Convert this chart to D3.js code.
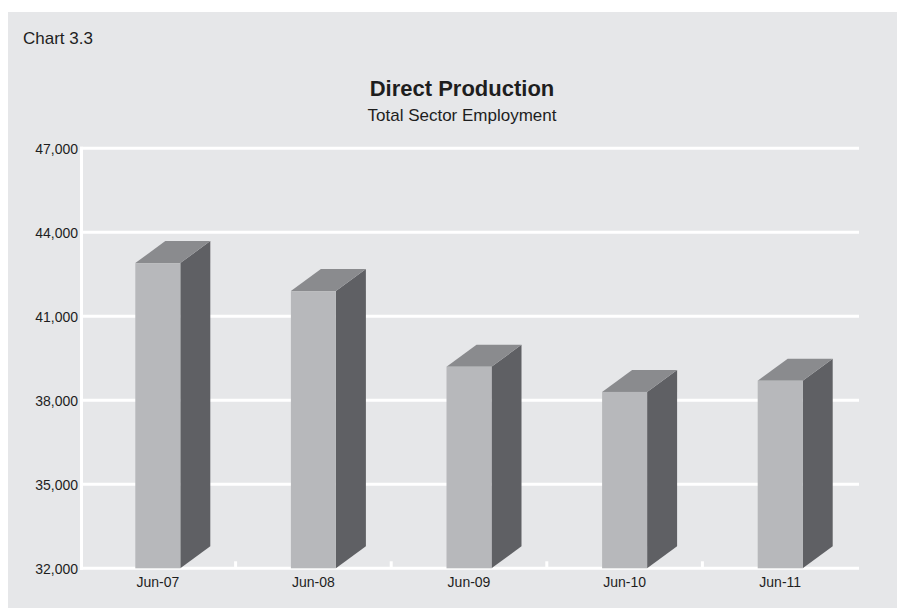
<!DOCTYPE html>
<html>
<head>
<meta charset="utf-8">
<script src="https://cdn.jsdelivr.net/npm/d3@7"></script>
<style>
  html, body { margin: 0; padding: 0; background: #ffffff; }
  svg { display: block; font-family: "Liberation Sans", Arial, Helvetica, sans-serif; }
</style>
</head>
<body>
<svg id="chart" width="905" height="608"></svg>
<script>
const categories = ["Jun-07", "Jun-08", "Jun-09", "Jun-10", "Jun-11"];
const employment = [42900, 41900, 39200, 38300, 38700];
const yTicks = [32000, 35000, 38000, 41000, 44000, 47000];
const chartLabel = "Chart 3.3";
const title = "Direct Production";
const subtitle = "Total Sector Employment";

(function () {
const svg = d3.select("#chart");

svg.append("rect").attr("x", 8).attr("y", 12).attr("width", 889).attr("height", 596)
  .attr("fill", "#e6e7e9");

const pLeft = 80, pRight = 858, pTop = 148.3, pBottom = 568.3;
const x = d3.scaleBand().domain(categories).range([pLeft, pRight]).padding(0);
const y = d3.scaleLinear().domain([32000, 47000]).range([pBottom, pTop]);

const textColor = "#1e1e1e";

svg.append("text").attr("x", 23).attr("y", 44).attr("font-size", 17).attr("fill", textColor)
  .text(chartLabel);
svg.append("text").attr("x", 462).attr("y", 96).attr("text-anchor", "middle")
  .attr("font-size", 22).attr("font-weight", "bold").attr("fill", textColor).text(title);
svg.append("text").attr("x", 462).attr("y", 120.5).attr("text-anchor", "middle")
  .attr("font-size", 17).attr("fill", textColor).text(subtitle);

// gridlines
svg.append("g").selectAll("line").data(yTicks).join("line")
  .attr("x1", pLeft).attr("x2", pRight + 1)
  .attr("y1", d => y(d)).attr("y2", d => y(d))
  .attr("stroke", "#ffffff").attr("stroke-width", 3);

// y axis line
svg.append("line").attr("x1", pLeft + 1.5).attr("x2", pLeft + 1.5)
  .attr("y1", pTop - 1.5).attr("y2", pBottom + 1.5)
  .attr("stroke", "#ffffff").attr("stroke-width", 3);

// x tick marks at category boundaries
const bounds = categories.map(c => x(c) + x.bandwidth()).slice(0, -1);
svg.append("g").selectAll("line").data(bounds).join("line")
  .attr("x1", d => d).attr("x2", d => d)
  .attr("y1", pBottom - 7).attr("y2", pBottom)
  .attr("stroke", "#ffffff").attr("stroke-width", 3);

// y labels via axis
const yAxis = svg.append("g").attr("transform", `translate(${pLeft - 2},0)`)
  .call(d3.axisLeft(y).tickValues(yTicks).tickFormat(d3.format(",")).tickSize(0).tickPadding(0));
yAxis.select(".domain").remove();
yAxis.selectAll("text").attr("font-size", 14).attr("fill", textColor)
  .attr("font-family", "Liberation Sans, Arial, sans-serif").attr("dy", "0.35em");

// x labels
const xAxis = svg.append("g").attr("transform", `translate(0,${pBottom})`)
  .call(d3.axisBottom(x).tickSize(0).tickPadding(0));
xAxis.select(".domain").remove();
xAxis.selectAll("text").attr("font-size", 14).attr("fill", textColor)
  .attr("font-family", "Liberation Sans, Arial, sans-serif").attr("dy", 0).attr("y", 18.5);

// 3D bars
const bw = 45, dx = 30, dy = 22;
const bars = svg.append("g").selectAll("g").data(categories.map((c, i) => ({c, v: employment[i]})))
  .join("g");

bars.each(function(d) {
  const g = d3.select(this);
  const cx = x(d.c) + x.bandwidth() / 2;
  const x0 = cx - bw / 2, x1 = cx + bw / 2;
  const yt = y(d.v), yb = y(32000);
  g.append("path")
    .attr("d", `M${x1},${yb} L${x1},${yt} L${x1 + dx},${yt - dy} L${x1 + dx},${yb - dy} Z`)
    .attr("fill", "#5f6064");
  g.append("path")
    .attr("d", `M${x0},${yt} L${x0 + dx},${yt - dy} L${x1 + dx},${yt - dy} L${x1},${yt} Z`)
    .attr("fill", "#8a8b8e");
  g.append("rect").attr("x", x0).attr("y", yt).attr("width", bw).attr("height", yb - yt)
    .attr("fill", "#b7b8bb");
});
})();
</script>
</body>
</html>
